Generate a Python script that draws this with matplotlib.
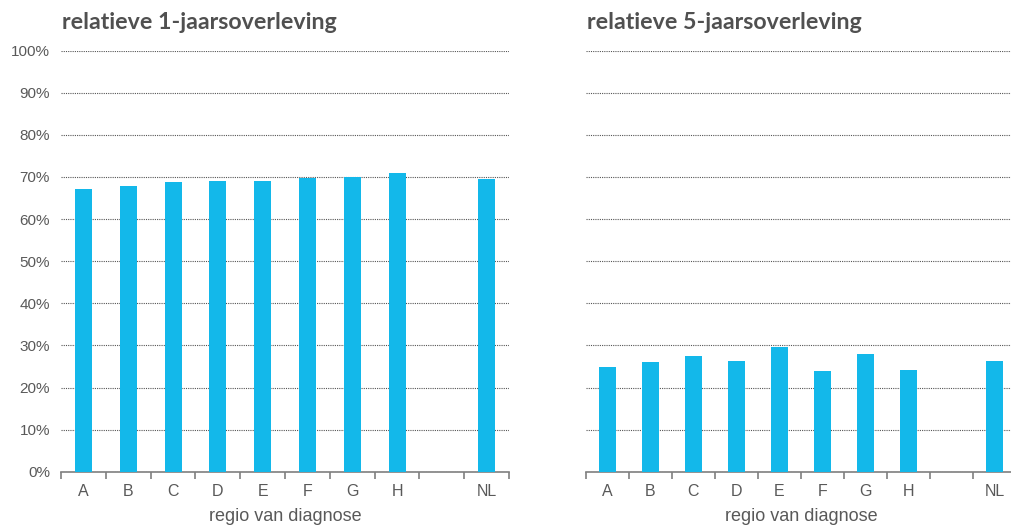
import numpy as np
import matplotlib.pyplot as plt
from matplotlib.ticker import FuncFormatter

regions = ['A', 'B', 'C', 'D', 'E', 'F', 'G', 'H', '', 'NL']
surv_1yr = [67.1, 67.8, 68.8, 69.1, 69.1, 69.8, 70.1, 71.0, None, 69.5]
surv_5yr = [24.8, 26.1, 27.4, 26.4, 29.7, 23.9, 28.0, 24.2, None, 26.4]

titles = ['relatieve 1-jaarsoverleving', 'relatieve 5-jaarsoverleving']

bar_color = '#13B8EA'
text_color = '#595959'

plt.rcParams['font.family'] = ['Liberation Sans', 'DejaVu Sans']

fig = plt.figure(figsize=(10.12, 5.29), dpi=100)
ax1 = fig.add_axes([0.0603, 0.1083, 0.4427, 0.7959])
ax2 = fig.add_axes([0.579, 0.1083, 0.4249, 0.7959])


def draw_panel(ax, values, title, show_yticks):
    x = np.arange(len(regions))
    for xi, v in zip(x, values):
        if v is not None:
            ax.bar(xi, v, width=0.38, color=bar_color, zorder=3)
    ax.set_xlim(-0.5, len(regions) - 0.5)
    ax.set_ylim(0, 100)
    ax.set_yticks(np.arange(0, 101, 10))
    ax.yaxis.set_major_formatter(FuncFormatter(lambda v, _: '%d%%' % v))
    ax.grid(axis='y', linestyle=(0, (1, 1)), linewidth=0.8, color='#555555', zorder=0)
    for s in ['left', 'right', 'top']:
        ax.spines[s].set_visible(False)
    ax.spines['bottom'].set_color('#7f7f7f')
    ax.spines['bottom'].set_linewidth(1.2)
    ax.set_xticks(x)
    ax.set_xticklabels(regions, fontsize=11.5, color=text_color)
    ax.set_xticks(np.arange(-0.5, len(regions), 1), minor=True)
    ax.tick_params(axis='x', which='major', length=0, pad=9)
    ax.tick_params(axis='x', which='minor', length=5, width=1.2, color='#7f7f7f')
    ax.tick_params(axis='y', length=0, labelsize=11, labelcolor=text_color, pad=8)
    if not show_yticks:
        ax.tick_params(axis='y', labelleft=False)
    ax.set_xlabel('regio van diagnose', fontsize=13, color=text_color, labelpad=6)
    ax.text(0.003, 1.042, title, transform=ax.transAxes, fontsize=16.7,
            fontweight='bold', family='Lato', color='#505050', va='bottom')


draw_panel(ax1, surv_1yr, titles[0], True)
draw_panel(ax2, surv_5yr, titles[1], False)

fig.savefig('out.png', dpi=100)
